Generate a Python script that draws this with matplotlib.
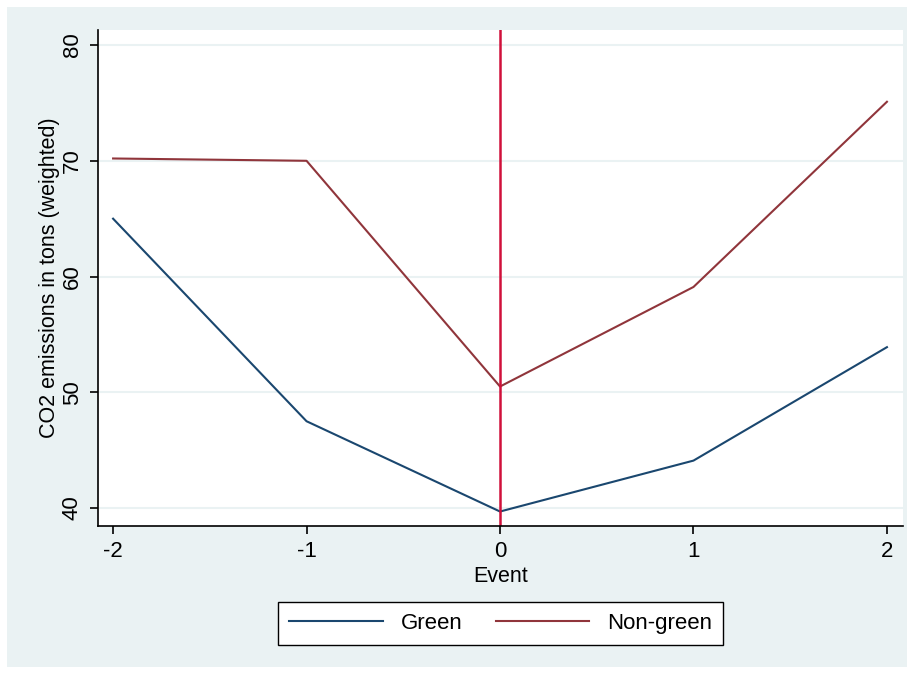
import matplotlib.pyplot as plt
from matplotlib.patches import Rectangle

plt.rcParams['font.family'] = ['Liberation Sans', 'DejaVu Sans']

events = [-2, -1, 0, 1, 2]
green = [65.0, 47.5, 39.7, 44.1, 53.9]
non_green = [70.2, 70.0, 50.5, 59.1, 75.1]
yticks = [40, 50, 60, 70, 80]

bg = '#eaf2f3'
fig = plt.figure(figsize=(9.15, 6.74), dpi=100, facecolor='white')
# stata-like outer panel
fig.patches.append(Rectangle((7 / 915, 7 / 674), 900 / 915, 660 / 674,
                             transform=fig.transFigure, facecolor=bg,
                             edgecolor='none', zorder=-5))

ax = fig.add_axes([98 / 915, 1 - 526 / 674, 805 / 915, 496 / 674])
ax.set_facecolor('white')

ax.plot(events, green, color='#1a476f', lw=1.5, label='Green')
ax.plot(events, non_green, color='#90353b', lw=1.5, label='Non-green')
ax.axvline(0, color='#d0103a', lw=1.8)

ax.set_xlim(-2.078, 2.083)
ax.set_ylim(38.45, 81.3)
ax.set_xticks(events)
ax.set_xticklabels([str(e) for e in events])
ax.set_yticks(yticks)
ax.set_yticklabels([str(v) for v in yticks], rotation=90, va='center')
ax.yaxis.grid(True, color=bg, lw=1.5)
ax.set_axisbelow(True)

for s in ['top', 'right']:
    ax.spines[s].set_visible(False)
for s in ['left', 'bottom']:
    ax.spines[s].set_color('black')
    ax.spines[s].set_linewidth(1.2)
ax.tick_params(labelsize=16, length=6, width=1.2, color='black', pad=5)

ax.set_xlabel('Event', fontsize=15.5, labelpad=3)
ax.set_ylabel('CO2 emissions in tons (weighted)', fontsize=15.5, labelpad=1)

leg = ax.legend(loc='upper center', bbox_to_anchor=(0.5, -0.13), ncol=2,
                fontsize=16, frameon=True, fancybox=False, handlelength=4.2,
                columnspacing=1.5, borderpad=0.5, framealpha=1,
                handletextpad=0.8)
leg.get_frame().set_edgecolor('black')
leg.get_frame().set_facecolor('white')
leg.get_frame().set_linewidth(1.0)

fig.savefig('out.png', dpi=100, facecolor=fig.get_facecolor())
